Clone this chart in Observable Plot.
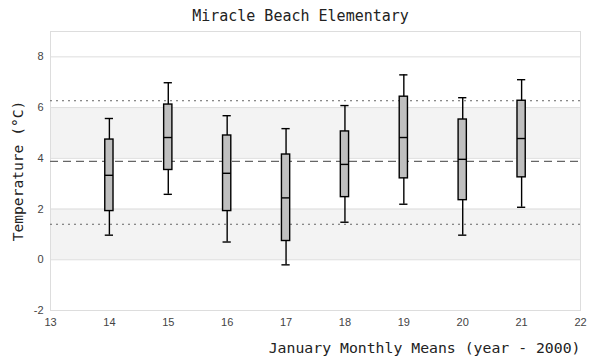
<!DOCTYPE html>
<html>
<head>
<meta charset="utf-8">
<script src="https://cdn.jsdelivr.net/npm/d3@7"></script>
<script src="https://cdn.jsdelivr.net/npm/@observablehq/plot@0.6"></script>
<style>
  html, body { margin: 0; padding: 0; background: #fff; }
</style>
</head>
<body>
<div id="chart"></div>
<script>
// Data
const years      = [14, 15, 16, 17, 18, 19, 20, 21];
const whiskerLow = [0.97, 2.58, 0.70, -0.20, 1.48, 2.19, 0.97, 2.07];
const boxLow     = [1.92, 3.54, 1.92, 0.74, 2.47, 3.21, 2.35, 3.25];
const medians    = [3.33, 4.82, 3.41, 2.44, 3.76, 4.82, 3.96, 4.78];
const boxHigh    = [4.74, 6.12, 4.90, 4.15, 5.06, 6.43, 5.53, 6.27];
const whiskerHigh= [5.57, 6.98, 5.68, 5.17, 6.08, 7.29, 6.39, 7.10];

const overallMean = [3.88];
const sdLines     = [6.27, 1.40];

const bandLow  = [0, 4];
const bandHigh = [2, 6];

const xTicks = [13, 14, 15, 16, 17, 18, 19, 20, 21, 22];
const yTicks = [-2, 0, 2, 4, 6, 8];

const titleText  = "Miracle Beach Elementary";
const xLabelText = "January Monthly Means (year - 2000)";
const yLabelText = "Temperature (°C)";

const data = years.map((y, i) => ({
  year: y, lo: whiskerLow[i], q1: boxLow[i], med: medians[i], q3: boxHigh[i], hi: whiskerHigh[i]
}));
const bands = bandLow.map((b, i) => ({y1: b, y2: bandHigh[i]}));

const half = 0.07;
const mono = "'DejaVu Sans Mono', 'Liberation Mono', monospace";

const chart = Plot.plot({
  width: 600,
  height: 360,
  marginLeft: 50,
  marginRight: 20,
  marginTop: 31,
  marginBottom: 50,
  style: {fontFamily: "'Liberation Sans', Arial, sans-serif", fontSize: "11px", color: "#444", background: "#fff"},
  x: {domain: [13, 22]},
  y: {domain: [-2, 9]},
  marks: [
    Plot.rect(bands, {y1: "y1", y2: "y2", fill: "#f3f3f3"}),
    Plot.gridY(yTicks, {stroke: "#dddddd", strokeOpacity: 1, strokeWidth: 1}),
    Plot.frame({stroke: "#dddddd", strokeWidth: 1}),
    Plot.ruleY(sdLines, {stroke: "#666", strokeWidth: 1, strokeDasharray: "2,4"}),
    Plot.ruleY(overallMean, {stroke: "#666", strokeWidth: 1.2, strokeDasharray: "8,5"}),
    Plot.ruleX(data, {x: "year", y1: "lo", y2: "hi", stroke: "#000", strokeWidth: 1.4}),
    Plot.ruleY(data, {y: "hi", x1: d => d.year - half, x2: d => d.year + half, stroke: "#000", strokeWidth: 1.4}),
    Plot.ruleY(data, {y: "lo", x1: d => d.year - half, x2: d => d.year + half, stroke: "#000", strokeWidth: 1.4}),
    Plot.rect(data, {x1: d => d.year - half, x2: d => d.year + half, y1: "q1", y2: "q3", fill: "#bfbfbf", stroke: "#000", strokeWidth: 1.4}),
    Plot.ruleY(data, {y: "med", x1: d => d.year - half, x2: d => d.year + half, stroke: "#000", strokeWidth: 1.4}),
    Plot.axisX(xTicks, {tickSize: 0, tickPadding: 8, label: null, fill: "#444", tickFormat: d => String(d)}),
    Plot.axisY(yTicks, {tickSize: 0, tickPadding: 7, label: null, fill: "#444", tickFormat: d => String(d)}),
    Plot.text([titleText], {frameAnchor: "top", lineAnchor: "bottom", dy: -11, dx: -15, fontFamily: mono, fontSize: 15, fill: "#222"}),
    Plot.text([xLabelText], {frameAnchor: "bottom-right", textAnchor: "end", lineAnchor: "bottom", dy: 42, fontFamily: mono, fontSize: 14.8, fill: "#222"}),
    Plot.text([yLabelText], {frameAnchor: "left", textAnchor: "middle", rotate: -90, dx: -32, fontFamily: mono, fontSize: 14.6, fill: "#222"})
  ]
});
document.getElementById("chart").appendChild(chart);
</script>
</body>
</html>
